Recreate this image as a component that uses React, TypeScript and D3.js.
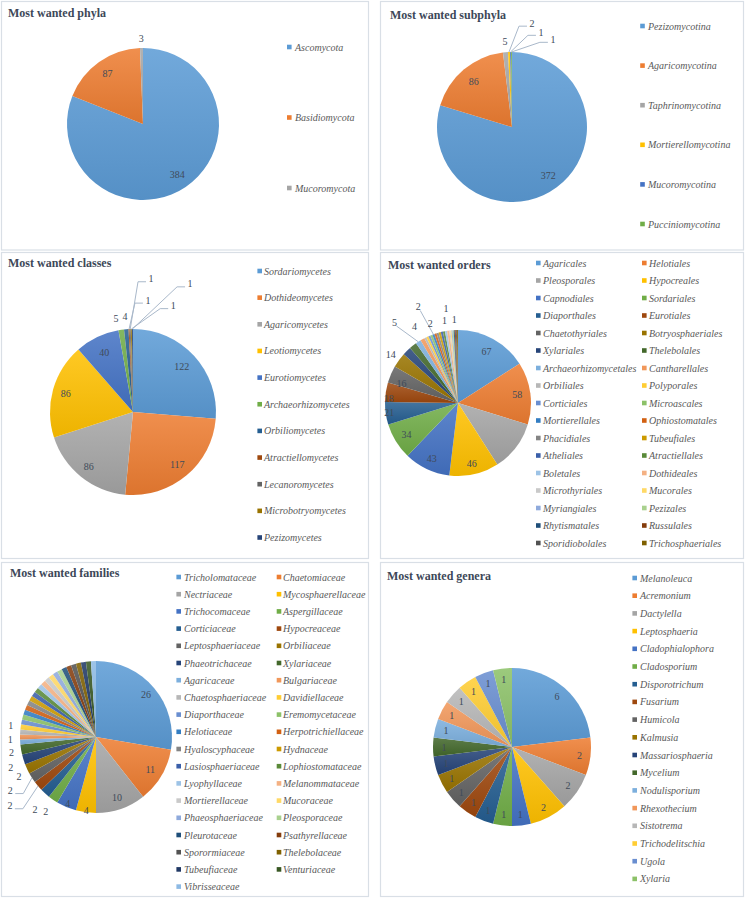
import React from 'react';
import * as d3 from 'd3';

// ---------- DATA ----------
const phylaNames = ['Ascomycota', 'Basidiomycota', 'Mucoromycota'];
const phylaValues = [384, 87, 3];

const subphylaNames = ['Pezizomycotina', 'Agaricomycotina', 'Taphrinomycotina', 'Mortierellomycotina', 'Mucoromycotina', 'Pucciniomycotina'];
const subphylaValues = [372, 86, 5, 2, 1, 1];

const classNames = ['Sordariomycetes', 'Dothideomycetes', 'Agaricomycetes', 'Leotiomycetes', 'Eurotiomycetes', 'Archaeorhizomycetes', 'Orbiliomycetes', 'Atractiellomycetes', 'Lecanoromycetes', 'Microbotryomycetes', 'Pezizomycetes'];
const classValues = [122, 117, 86, 86, 40, 5, 4, 1, 1, 1, 1];

const orderNames = ['Agaricales', 'Helotiales', 'Pleosporales', 'Hypocreales', 'Capnodiales', 'Sordariales', 'Diaporthales', 'Eurotiales', 'Chaetothyriales', 'Botryosphaeriales', 'Xylariales', 'Thelebolales', 'Archaeorhizomycetales', 'Cantharellales', 'Orbiliales', 'Polyporales', 'Corticiales', 'Microascales', 'Mortierellales', 'Ophiostomatales', 'Phacidiales', 'Tubeufiales', 'Atheliales', 'Atractiellales', 'Boletales', 'Dothideales', 'Microthyriales', 'Mucorales', 'Myriangiales', 'Pezizales', 'Rhytismatales', 'Russulales', 'Sporidiobolales', 'Trichosphaeriales'];
const orderValues = [67, 58, 47, 46, 43, 34, 21, 18, 16, 14, 8, 7, 5, 4, 2, 2, 2, 2, 2, 2, 2, 2, 2, 2, 2, 2, 1, 1, 1, 1, 1, 1, 1, 1];

const familyNames = ['Tricholomataceae', 'Chaetomiaceae', 'Nectriaceae', 'Mycosphaerellaceae', 'Trichocomaceae', 'Aspergillaceae', 'Corticiaceae', 'Hypocreaceae', 'Leptosphaeriaceae', 'Orbiliaceae', 'Phaeotrichaceae', 'Xylariaceae', 'Agaricaceae', 'Bulgariaceae', 'Chaetosphaeriaceae', 'Davidiellaceae', 'Diaporthaceae', 'Eremomycetaceae', 'Helotiaceae', 'Herpotrichiellaceae', 'Hyaloscyphaceae', 'Hydnaceae', 'Lasiosphaeriaceae', 'Lophiostomataceae', 'Lyophyllaceae', 'Melanommataceae', 'Mortierellaceae', 'Mucoraceae', 'Phaeosphaeriaceae', 'Pleosporaceae', 'Pleurotaceae', 'Psathyrellaceae', 'Sporormiaceae', 'Thelebolaceae', 'Tubeufiaceae', 'Venturiaceae', 'Vibrisseaceae'];
const familyValues = [26, 11, 10, 4, 4, 2, 2, 2, 2, 2, 2, 2, 1, 1, 1, 1, 1, 1, 1, 1, 1, 1, 1, 1, 1, 1, 1, 1, 1, 1, 1, 1, 1, 1, 1, 1, 1];

const genusNames = ['Melanoleuca', 'Acremonium', 'Dactylella', 'Leptosphaeria', 'Cladophialophora', 'Cladosporium', 'Disporotrichum', 'Fusarium', 'Humicola', 'Kalmusia', 'Massariosphaeria', 'Mycelium', 'Nodulisporium', 'Rhexothecium', 'Sistotrema', 'Trichodelitschia', 'Ugola', 'Xylaria'];
const genusValues = [6, 2, 2, 2, 1, 1, 1, 1, 1, 1, 1, 1, 1, 1, 1, 1, 1, 1];

// ---------- STYLE / LAYOUT ----------
const PALETTE = [
  '#5B9BD5', '#ED7D31', '#A5A5A5', '#FFC000', '#4472C4', '#70AD47',
  '#255E91', '#9E480E', '#636363', '#997300', '#264478', '#43682B',
  '#7CAFDD', '#F1975A', '#B7B7B7', '#FFCD33', '#698ED0', '#8CC168',
  '#327DC2', '#D26012', '#848484', '#CC9A00', '#3A5FA9', '#5A8A39',
  '#9DC3E6', '#F4B183', '#C9C9C9', '#FFD966', '#8FAADC', '#A9D18E',
  '#1E4E79', '#843C0C', '#525252', '#7F6000', '#203864', '#385723',
  '#8DBAE4', '#F3A472', '#BFBFBF', '#FFD34D', '#7C9CD6', '#9AC97B',
];

const FONT = "'Liberation Serif', 'Times New Roman', Times, serif";
const TITLE_COLOR = '#3D4858';
const LABEL_COLOR = '#404B5A';
const LEGEND_COLOR = '#595959';
const LEADER_COLOR = '#A9B8CA';
const BORDER_COLOR = '#D9DFE6';

type LabelSpec = { i: number; k: number; a?: number; leader?: 'elbow' | 'straight' };
type LegendSpec = { cols: { mx: number; tx: number }[]; y0: number; dy: number };

const phylaLabels: LabelSpec[] = [{ i: 0, k: 0.8 }, { i: 1, k: 0.81 }, { i: 2, k: 1.12 }];
const subphylaLabels: LabelSpec[] = [
  { i: 0, k: 0.81 }, { i: 1, k: 0.79 }, { i: 2, k: 1.14, a: 355.3 },
  { i: 3, k: 1.41, a: 10.9, leader: 'elbow' }, { i: 4, k: 1.32, a: 17, leader: 'elbow' }, { i: 5, k: 1.29, a: 25, leader: 'elbow' },
];
const classLabels: LabelSpec[] = [
  { i: 0, k: 0.8 }, { i: 1, k: 0.83 }, { i: 2, k: 0.85 }, { i: 3, k: 0.84 }, { i: 4, k: 0.8 },
  { i: 5, k: 1.14, a: 349.6 }, { i: 6, k: 1.15, a: 355.2 },
  { i: 7, k: 1.36, a: 7.6, leader: 'elbow' }, { i: 8, k: 1.62, a: 7.7, leader: 'elbow' },
  { i: 9, k: 1.37, a: 20.7, leader: 'elbow' }, { i: 10, k: 1.69, a: 24, leader: 'elbow' },
];
const orderLabels: LabelSpec[] = [
  { i: 0, k: 0.81 }, { i: 1, k: 0.82 }, { i: 3, k: 0.85 }, { i: 4, k: 0.84 }, { i: 5, k: 0.83 },
  { i: 6, k: 0.95 }, { i: 7, k: 0.95, a: 274 }, { i: 8, k: 0.82, a: 289.3 }, { i: 9, k: 1.14 },
  { i: 12, k: 1.41, a: 321.9, leader: 'straight' }, { i: 13, k: 1.2, a: 330.2 },
  { i: 18, k: 1.43, a: 337.6, leader: 'straight' }, { i: 19, k: 1.16, a: 340.8 },
  { i: 26, k: 1.14, a: 350.6 }, { i: 27, k: 1.31, a: 352.8 }, { i: 31, k: 1.14, a: 357.4 },
];
const familyLabels: LabelSpec[] = [
  { i: 0, k: 0.86 }, { i: 1, k: 0.83 }, { i: 2, k: 0.84 }, { i: 3, k: 0.97 }, { i: 4, k: 0.95 },
  { i: 5, k: 1.18, a: 214 }, { i: 6, k: 1.25, a: 219.9 },
  { i: 7, k: 1.45, a: 231.4, leader: 'elbow' }, { i: 8, k: 1.33, a: 238, leader: 'elbow' },
  { i: 9, k: 1.14, a: 242.7 }, { i: 10, k: 1.19, a: 250.5 }, { i: 11, k: 1.13, a: 259.5 },
  { i: 12, k: 1.13, a: 268.5 }, { i: 13, k: 1.13, a: 277.5 },
];
const genusLabels: LabelSpec[] = genusValues.map((_, i) => ({ i, k: 0.86 }));

const panels = [
  { x: 1.5, y: 1.5, w: 367, h: 248.5 },
  { x: 380.5, y: 1.5, w: 363, h: 248.5 },
  { x: 1.5, y: 252.5, w: 367, h: 306 },
  { x: 380.5, y: 252.5, w: 363, h: 306 },
  { x: 1.5, y: 562.5, w: 367, h: 334 },
  { x: 380.5, y: 562.5, w: 363, h: 334 },
];

type PieProps = {
  id: string;
  title: string;
  tx: number;
  ty: number;
  names: string[];
  values: number[];
  cx: number;
  cy: number;
  r: number;
  labels: LabelSpec[];
  legend: LegendSpec;
};

const rad = (deg: number) => (deg * Math.PI) / 180;

function PieChart(p: PieProps) {
  const arcs = d3.pie<number>().sort(null).value((d) => d)(p.values);
  const arcGen = d3.arc<d3.PieArcDatum<number>>().innerRadius(0).outerRadius(p.r);
  const ncol = p.legend.cols.length;

  return (
    <g>
      <defs>
        {p.values.map((_, i) => {
          const c = PALETTE[i % PALETTE.length];
          return (
            <linearGradient key={i} id={`${p.id}-g${i}`} x1="0" y1="0" x2="0" y2="1">
              <stop offset="0" stopColor={d3.interpolateRgb(c, '#ffffff')(0.14)} />
              <stop offset="1" stopColor={d3.interpolateRgb(c, '#000000')(0.07)} />
            </linearGradient>
          );
        })}
      </defs>
      <text x={p.tx} y={p.ty} fontFamily={FONT} fontWeight="bold" fontSize={12} fill={TITLE_COLOR}>
        {p.title}
      </text>
      <g transform={`translate(${p.cx},${p.cy})`}>
        {arcs.map((a, i) => (
          <path key={i} d={arcGen(a) || ''} fill={`url(#${p.id}-g${i})`} />
        ))}
      </g>
      {p.labels.map((l, j) => {
        const a = arcs[l.i];
        const mid = (a.startAngle + a.endAngle) / 2;
        const ang = l.a !== undefined ? rad(l.a) : mid;
        const lx = p.cx + l.k * p.r * Math.sin(ang);
        const ly = p.cy - l.k * p.r * Math.cos(ang);
        const rx = p.cx + p.r * Math.sin(mid);
        const ry = p.cy - p.r * Math.cos(mid);
        let leader = null;
        if (l.leader === 'elbow') {
          const side = lx >= rx ? 1 : -1;
          const pts = [
            [rx, ry],
            [lx - side * 13, ly + 3],
            [lx - side * 5, ly + 3],
          ];
          leader = <polyline points={pts.map((q) => q.join(',')).join(' ')} fill="none" stroke={LEADER_COLOR} strokeWidth={1} />;
        } else if (l.leader === 'straight') {
          leader = <line x1={lx + 2} y1={ly + 4} x2={rx} y2={ry} stroke={LEADER_COLOR} strokeWidth={1} />;
        }
        return (
          <g key={j}>
            {leader}
            <text x={lx} y={ly} dy="0.35em" textAnchor="middle" fontFamily={FONT} fontSize={10} fill={LABEL_COLOR}>
              {p.values[l.i]}
            </text>
          </g>
        );
      })}
      {p.names.map((n, i) => {
        const col = p.legend.cols[i % ncol];
        const row = Math.floor(i / ncol);
        const y = p.legend.y0 + row * p.legend.dy;
        return (
          <g key={n}>
            <rect x={col.mx - 2.3} y={y - 2.3} width={4.6} height={4.6} fill={PALETTE[i % PALETTE.length]} />
            <text x={col.tx} y={y} dy="0.35em" fontFamily={FONT} fontStyle="italic" fontSize={10} fill={LEGEND_COLOR}>
              {n}
            </text>
          </g>
        );
      })}
    </g>
  );
}

export default function App() {
  return (
    <svg width={746} height={898} style={{ position: 'absolute', left: 0, top: 0, background: '#fff' }}>
      <rect x={0} y={0} width={746} height={898} fill="#ffffff" />
      {panels.map((b, i) => (
        <rect key={i} x={b.x} y={b.y} width={b.w} height={b.h} fill="#ffffff" stroke={BORDER_COLOR} strokeWidth={1.2} />
      ))}
      <PieChart id="phy" title="Most wanted phyla" tx={8} ty={17} names={phylaNames} values={phylaValues}
        cx={143} cy={124} r={76} labels={phylaLabels}
        legend={{ cols: [{ mx: 289.3, tx: 295 }], y0: 47, dy: 70.5 }} />
      <PieChart id="sub" title="Most wanted subphyla" tx={390} ty={19} names={subphylaNames} values={subphylaValues}
        cx={512} cy={127} r={75} labels={subphylaLabels}
        legend={{ cols: [{ mx: 642.5, tx: 648 }], y0: 26, dy: 39.6 }} />
      <PieChart id="cls" title="Most wanted classes" tx={8} ty={267} names={classNames} values={classValues}
        cx={133} cy={412} r={83} labels={classLabels}
        legend={{ cols: [{ mx: 259.7, tx: 264 }], y0: 271, dy: 26.65 }} />
      <PieChart id="ord" title="Most wanted orders" tx={388} ty={269} names={orderNames} values={orderValues}
        cx={458} cy={403} r={73} labels={orderLabels}
        legend={{ cols: [{ mx: 538.3, tx: 543 }, { mx: 644.3, tx: 649 }], y0: 263, dy: 17.5 }} />
      <PieChart id="fam" title="Most wanted families" tx={10} ty={577} names={familyNames} values={familyValues}
        cx={96} cy={737} r={76} labels={familyLabels}
        legend={{ cols: [{ mx: 178.7, tx: 184 }, { mx: 279, tx: 283 }], y0: 577, dy: 17.2 }} />
      <PieChart id="gen" title="Most wanted genera" tx={387} ty={580} names={genusNames} values={genusValues}
        cx={512} cy={747} r={79} labels={genusLabels}
        legend={{ cols: [{ mx: 634.7, tx: 640 }], y0: 578, dy: 17.7 }} />
    </svg>
  );
}
